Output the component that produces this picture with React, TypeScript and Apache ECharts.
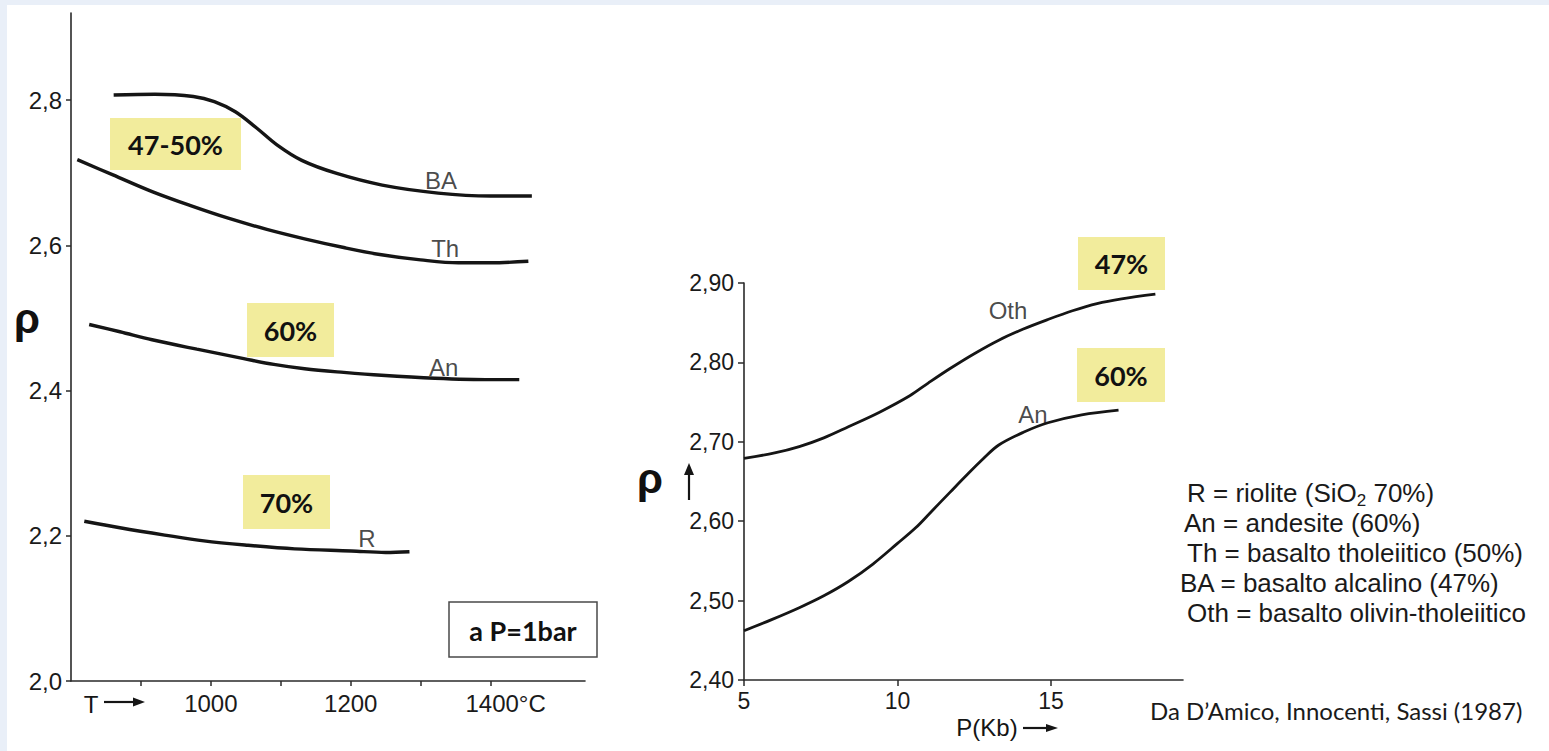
import React, { useEffect, useRef } from "react";
import * as echarts from "echarts";

// ---- Left chart (P = 1 bar): density vs temperature ----
const leftXTicks = [900, 1000, 1100, 1200, 1300, 1400];
const leftXLabels = [1000, 1200, 1400];
const leftYTicks = [2.0, 2.2, 2.4, 2.6, 2.8];

const BA: number[][] = [[861, 2.807], [920, 2.808], [975, 2.805], [1005, 2.798], [1035, 2.784], [1065, 2.762], [1095, 2.738], [1130, 2.717], [1180, 2.699], [1245, 2.683], [1325, 2.672], [1400, 2.668], [1459, 2.668]];
const Th: number[][] = [[809, 2.718], [860, 2.697], [916, 2.674], [970, 2.655], [1026, 2.637], [1080, 2.622], [1134, 2.609], [1190, 2.597], [1244, 2.587], [1300, 2.58], [1354, 2.576], [1400, 2.576], [1454, 2.578]];
const AnT: number[][] = [[826, 2.491], [870, 2.481], [916, 2.47], [980, 2.457], [1047, 2.444], [1090, 2.436], [1134, 2.43], [1190, 2.425], [1244, 2.421], [1320, 2.417], [1400, 2.415], [1441, 2.415]];
const R: number[][] = [[819, 2.22], [870, 2.211], [934, 2.201], [990, 2.193], [1053, 2.187], [1120, 2.182], [1201, 2.179], [1250, 2.177], [1284, 2.178]];
const leftCurveLabels = [
  { name: "BA", value: [1329, 2.69] },
  { name: "Th", value: [1335, 2.596] },
  { name: "An", value: [1333, 2.432] },
  { name: "R", value: [1223, 2.196] },
];

// ---- Right chart: density vs pressure ----
const rightXTicks = [5, 10, 15];
const rightYTicks = [2.4, 2.5, 2.6, 2.7, 2.8, 2.9];
const Oth: number[][] = [[5, 2.679], [6, 2.686], [6.8, 2.694], [7.6, 2.705], [8.4, 2.719], [9.4, 2.737], [10.4, 2.758], [11.0, 2.774], [11.7, 2.792], [12.5, 2.811], [13.3, 2.828], [14.1, 2.842], [14.9, 2.854], [15.7, 2.865], [16.5, 2.874], [17.3, 2.88], [18.4, 2.886]];
const AnP: number[][] = [[5, 2.462], [5.9, 2.476], [6.8, 2.491], [7.6, 2.506], [8.4, 2.524], [9.2, 2.546], [10.0, 2.572], [10.6, 2.592], [11.1, 2.612], [11.7, 2.636], [12.2, 2.656], [12.8, 2.679], [13.3, 2.696], [14.1, 2.712], [14.9, 2.724], [16.0, 2.734], [17.2, 2.74]];
const rightCurveLabels = [
  { name: "Oth", value: [13.6, 2.865] },
  { name: "An", value: [14.41, 2.735] },
];

const legendLines = [
  "R = riolite (SiO{s|2} 70%)",
  "An = andesite (60%)",
  "Th = basalto tholeiitico (50%)",
  "BA = basalto alcalino (47%)",
  "Oth = basalto olivin-tholeiitico",
];
const legendX = [1187, 1184, 1187, 1180, 1187];
const citation = "Da D\u2019Amico, Innocenti, Sassi (1987)";

const SANS = "'Liberation Sans', Arial, sans-serif";
const CAL = "Lato, 'Open Sans', sans-serif";
const INK = "#151515";
const YEL = "#f2ec9c";

function yellowBox(x: number, y: number, w: number, h: number, t: string) {
  return [
    { type: "rect", shape: { x, y, width: w, height: h }, style: { fill: YEL }, z: 1 },
    {
      type: "text", x: x + w / 2, y: y + h / 2, z: 2,
      style: { text: t, fill: "#111", font: `bold 27px ${CAL}`, align: "center", verticalAlign: "middle" },
    },
  ];
}

function arrow(x1: number, y1: number, x2: number, y2: number, head: number[][]) {
  return [
    { type: "line", shape: { x1, y1, x2, y2 }, style: { stroke: INK, lineWidth: 2.2 }, z: 3 },
    { type: "polygon", shape: { points: head }, style: { fill: INK }, z: 3 },
  ];
}

export default function App() {
  const ref = useRef<HTMLDivElement>(null);
  useEffect(() => {
    if (!ref.current) return;
    const chart = echarts.init(ref.current, undefined, { renderer: "svg" });
    const axisLine = { show: true, lineStyle: { color: "#2a2a2a", width: 1.6 } };
    const lineSeries = (data: number[][], idx: number, w: number) => ({
      type: "line", data, xAxisIndex: idx, yAxisIndex: idx, smooth: 0.35, showSymbol: false,
      lineStyle: { color: INK, width: w }, silent: true, z: 5,
    });
    const labelSeries = (data: any[], idx: number) => ({
      type: "scatter", data, xAxisIndex: idx, yAxisIndex: idx, symbolSize: 1, silent: true,
      itemStyle: { color: "rgba(0,0,0,0)" },
      label: { show: true, position: "inside", formatter: "{b}", color: "#1a1a1a", fontSize: 24, fontFamily: SANS },
      z: 6,
    });

    const graphic: any[] = [
      { type: "rect", shape: { x: 7, y: 5, width: 1542, height: 746 }, style: { fill: "#ffffff" }, z: -10, silent: true },
      ...yellowBox(110, 118, 131, 52, "47-50%"),
      ...yellowBox(247, 303, 87, 54, "60%"),
      ...yellowBox(243, 475, 87, 54, "70%"),
      ...yellowBox(1078, 237, 87, 53, "47%"),
      ...yellowBox(1077, 348, 88, 54, "60%"),
      { type: "rect", shape: { x: 449, y: 602, width: 148, height: 55 }, style: { fill: "#fff", stroke: "#4a4a4a", lineWidth: 1.5 }, z: 1 },
      { type: "text", x: 523, y: 630, style: { text: "a P=1bar", fill: "#111", font: `bold 27px ${CAL}`, align: "center", verticalAlign: "middle" }, z: 2 },
      { type: "text", x: 27, y: 318, style: { text: "\u03c1", fill: "#111", font: `bold 42px ${SANS}`, align: "center", verticalAlign: "middle" } },
      { type: "text", x: 650, y: 478, style: { text: "\u03c1", fill: "#111", font: `bold 42px ${SANS}`, align: "center", verticalAlign: "middle" } },
      ...arrow(689, 500, 689, 472, [[684, 475], [694, 475], [689, 463]]),
      { type: "text", x: 91, y: 704, style: { text: "T", fill: INK, font: `24px ${SANS}`, align: "center", verticalAlign: "middle" } },
      ...arrow(104, 702, 135, 702, [[133, 697.5], [145, 702], [133, 706.5]]),
      { type: "text", x: 987, y: 727, style: { text: "P(Kb)", fill: INK, font: `24px ${SANS}`, align: "center", verticalAlign: "middle" } },
      ...arrow(1023, 728, 1048, 728, [[1046, 724], [1058, 728], [1046, 732]]),
      ...legendLines.map((t, i) => ({
        type: "text", x: legendX[i], y: 493 + i * 30,
        style: {
          text: t, fill: "#1a1a1a", font: `26px ${SANS}`, align: "left", verticalAlign: "middle",
          rich: { s: { fontSize: 17, fontFamily: SANS, fill: "#1a1a1a", padding: [14, 0, 0, 0] } },
        },
      })),
      { type: "text", x: 1150, y: 710, style: { text: citation, fill: "#1a1a1a", font: `24px ${CAL}`, align: "left", verticalAlign: "middle" } },
    ];

    chart.setOption({
      animation: false,
      backgroundColor: "#e9eff8",
      grid: [
        { left: 71, top: 13, width: 514, height: 668 },
        { left: 744, top: 283, width: 439, height: 397 },
      ],
      xAxis: [
        {
          type: "value", gridIndex: 0, min: 800, max: 1535, splitLine: { show: false }, axisLine,
          axisTick: { show: true, length: 5, customValues: leftXTicks, lineStyle: { color: "#2a2a2a", width: 1.5 } },
          axisLabel: {
            customValues: leftXLabels, margin: 10, color: "#1a1a1a", fontSize: 24, fontFamily: SANS,
            formatter: (v: number) => (v === 1400 ? "{p|}1400\u00b0C" : String(v)),
            rich: { p: { width: 30 } },
          },
        },
        {
          type: "value", gridIndex: 1, min: 5, max: 19.3, splitLine: { show: false }, axisLine,
          axisTick: { show: true, length: 6, customValues: rightXTicks, lineStyle: { color: "#2a2a2a", width: 1.5 } },
          axisLabel: { customValues: rightXTicks, margin: 9, color: "#1a1a1a", fontSize: 23, fontFamily: SANS },
        },
      ],
      yAxis: [
        {
          type: "value", gridIndex: 0, min: 2.0, max: 2.92, splitLine: { show: false }, axisLine,
          axisTick: { show: true, length: 5, customValues: leftYTicks, lineStyle: { color: "#2a2a2a", width: 1.5 } },
          axisLabel: {
            customValues: leftYTicks, margin: 9, color: "#1a1a1a", fontSize: 24, fontFamily: SANS,
            formatter: (v: number) => v.toFixed(1).replace(".", ","),
          },
        },
        {
          type: "value", gridIndex: 1, min: 2.4, max: 2.9, splitLine: { show: false }, axisLine,
          axisTick: { show: true, length: 6, customValues: rightYTicks, lineStyle: { color: "#2a2a2a", width: 1.5 } },
          axisLabel: {
            customValues: rightYTicks, margin: 10, color: "#1a1a1a", fontSize: 23, fontFamily: SANS,
            formatter: (v: number) => v.toFixed(2).replace(".", ","),
          },
        },
      ],
      series: [
        lineSeries(BA, 0, 3.4),
        lineSeries(Th, 0, 3.4),
        lineSeries(AnT, 0, 3.4),
        lineSeries(R, 0, 3.4),
        lineSeries(Oth, 1, 2.8),
        lineSeries(AnP, 1, 2.8),
        labelSeries(leftCurveLabels, 0),
        labelSeries(rightCurveLabels, 1),
      ],
      graphic,
    });
    return () => chart.dispose();
  }, []);
  return <div ref={ref} style={{ position: "fixed", left: 0, top: 0, width: 1549, height: 751 }} />;
}
